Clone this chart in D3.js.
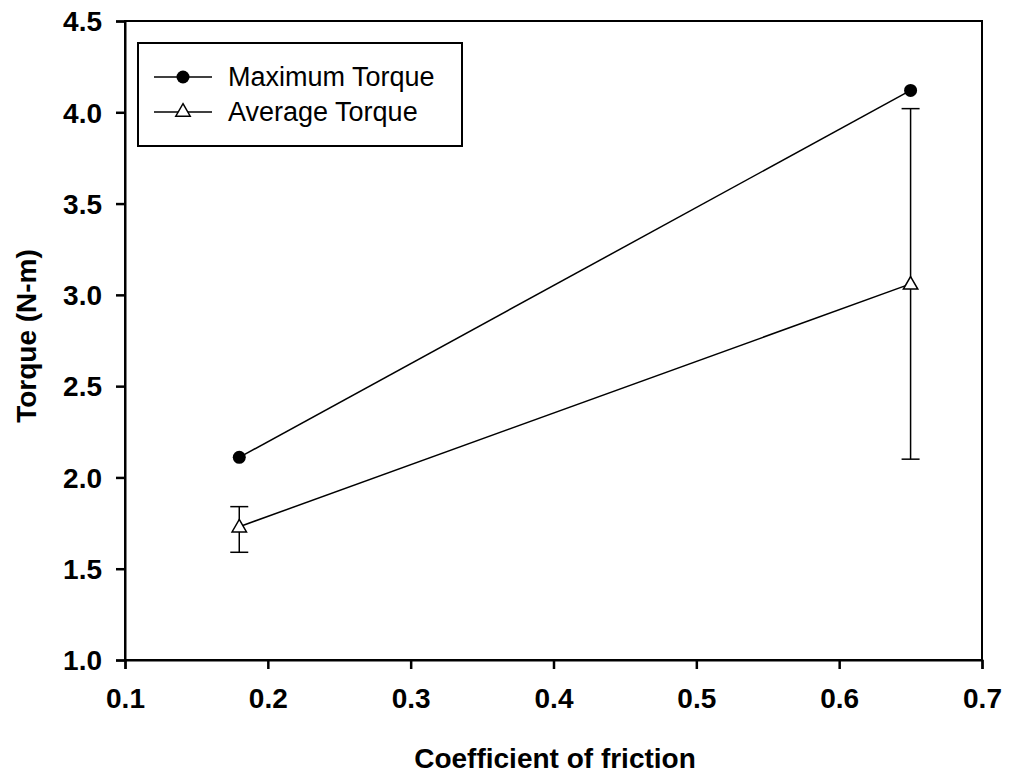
<!DOCTYPE html>
<html><head><meta charset="utf-8">
<script src="https://cdn.jsdelivr.net/npm/d3@7"></script>
<style>body{margin:0;background:#fff}svg{display:block}text{font-family:"Liberation Sans",Arial,sans-serif}</style>
</head><body><svg id="c" width="1018" height="780"></svg>
<script>
const friction = [0.18, 0.65];
const maxTorque = [2.11, 4.12];
const avgTorque = [1.73, 3.06];
const avgErrLow = [1.59, 2.10];
const avgErrHigh = [1.84, 4.02];
const xTicks = [0.1,0.2,0.3,0.4,0.5,0.6,0.7];
const yTicks = [1.0,1.5,2.0,2.5,3.0,3.5,4.0,4.5];
const seriesNames = ["Maximum Torque","Average Torque"];

const svg = d3.select("#c");
const L=125,R=982,T=21,B=660;
const x = d3.scaleLinear().domain([0.1,0.7]).range([L,R]);
const y = d3.scaleLinear().domain([1.0,4.5]).range([B,T]);

// frame
svg.append("rect").attr("x",L).attr("y",T).attr("width",R-L).attr("height",B-T).attr("fill","none").attr("stroke","#000").attr("stroke-width",2);

const xa = svg.append("g").attr("transform",`translate(0,${B})`).call(d3.axisBottom(x).tickValues(xTicks).tickFormat(d3.format(".1f")).tickSize(9).tickPadding(19));
const ya = svg.append("g").attr("transform",`translate(${L},0)`).call(d3.axisLeft(y).tickValues(yTicks).tickFormat(d3.format(".1f")).tickSize(9).tickPadding(14));
[xa,ya].forEach(a=>{a.select(".domain").attr("stroke-width",2);a.selectAll(".tick line").attr("stroke-width",2.5);
 a.selectAll("text").attr("font-size",28).attr("font-weight","bold").attr("fill","#000").attr("font-family","Liberation Sans, Arial, sans-serif");});
ya.selectAll("text").attr("dy","0.35em");

// titles
svg.append("text").attr("x",555).attr("y",768).attr("text-anchor","middle").attr("font-size",28).attr("font-weight","bold").text("Coefficient of friction");
svg.append("text").attr("transform","translate(36,336) rotate(-90)").attr("text-anchor","middle").attr("font-size",28).attr("font-weight","bold").text("Torque (N-m)");

const line = d3.line().x(d=>x(d[0])).y(d=>y(d[1]));
// error bars
friction.forEach((f,i)=>{
  const g=svg.append("g").attr("stroke","#000").attr("stroke-width",1.5);
  g.append("line").attr("x1",x(f)).attr("x2",x(f)).attr("y1",y(avgErrLow[i])).attr("y2",y(avgErrHigh[i]));
  [avgErrLow[i],avgErrHigh[i]].forEach(v=>g.append("line").attr("x1",x(f)-9).attr("x2",x(f)+9).attr("y1",y(v)).attr("y2",y(v)));
});
svg.append("path").attr("d",line(friction.map((f,i)=>[f,maxTorque[i]]))).attr("fill","none").attr("stroke","#000").attr("stroke-width",1.5);
svg.append("path").attr("d",line(friction.map((f,i)=>[f,avgTorque[i]]))).attr("fill","none").attr("stroke","#000").attr("stroke-width",1.5);

const tri = d3.symbol().type(d3.symbolTriangle).size(90);
friction.forEach((f,i)=>{
  svg.append("circle").attr("cx",x(f)).attr("cy",y(maxTorque[i])).attr("r",6.5).attr("fill","#000");
  svg.append("path").attr("d",tri()).attr("transform",`translate(${x(f)},${y(avgTorque[i])+1})`).attr("fill","#fff").attr("stroke","#000").attr("stroke-width",1.5);
});

// legend
svg.append("rect").attr("x",138).attr("y",43).attr("width",324).attr("height",103).attr("fill","#fff").attr("stroke","#000").attr("stroke-width",2);
[77,112].forEach((ly,i)=>{
  svg.append("line").attr("x1",154).attr("x2",212).attr("y1",ly).attr("y2",ly).attr("stroke","#000").attr("stroke-width",1.5);
  if(i===0) svg.append("circle").attr("cx",183).attr("cy",ly).attr("r",6.5).attr("fill","#000");
  else svg.append("path").attr("d",tri()).attr("transform",`translate(183,${ly})`).attr("fill","#fff").attr("stroke","#000").attr("stroke-width",1.5);
  svg.append("text").attr("x",228).attr("y",ly).attr("dy","0.35em").attr("font-size",27).text(seriesNames[i]);
});
</script></body></html>
